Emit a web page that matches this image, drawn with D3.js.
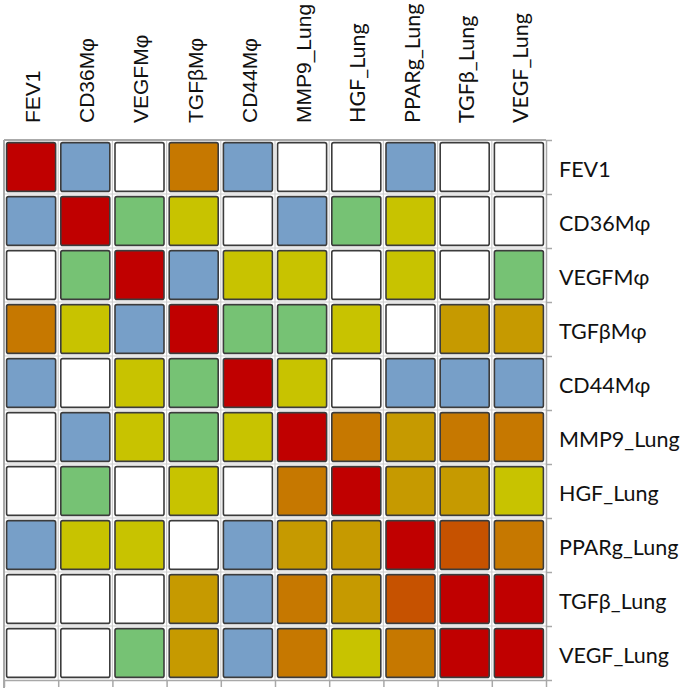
<!DOCTYPE html>
<html><head><meta charset="utf-8">
<script src="https://cdn.jsdelivr.net/npm/d3@7"></script>
<style>body{margin:0;background:#fff}svg{display:block}</style>
</head><body>
<svg id="c" width="685" height="692"></svg>
<script>
const columns = ["FEV1","CD36Mφ","VEGFMφ","TGFβMφ","CD44Mφ","MMP9_Lung","HGF_Lung","PPARg_Lung","TGFβ_Lung","VEGF_Lung"];
const rows = ["FEV1","CD36Mφ","VEGFMφ","TGFβMφ","CD44Mφ","MMP9_Lung","HGF_Lung","PPARg_Lung","TGFβ_Lung","VEGF_Lung"];
// level 0 = blank, 1..7 = colour class
const levels = [0,1,2,3,4,5,6,7];
const levelColors = ["#ffffff","#779fc8","#76c274","#c8c300","#c69a00","#c67800","#c65200","#c00000"];
const matrix = [
  [7,1,0,5,1,0,0,1,0,0],
  [1,7,2,3,0,1,2,3,0,0],
  [0,2,7,1,3,3,0,3,0,2],
  [5,3,1,7,2,2,3,0,4,4],
  [1,0,3,2,7,3,0,1,1,1],
  [0,1,3,2,3,7,5,4,5,5],
  [0,2,0,3,0,5,7,4,4,3],
  [1,3,3,0,1,4,4,7,6,5],
  [0,0,0,4,1,5,4,6,7,7],
  [0,0,2,4,1,5,3,5,7,7]
];

const svg = d3.select("#c");
const L = 4, R = 546, T = 140, B = 680;
const x = d3.scaleBand().domain(columns).range([L, R]);
const y = d3.scaleBand().domain(rows).range([T, B]);
const color = d3.scaleOrdinal().domain(levels).range(levelColors);
const xi = d3.scaleLinear().domain([0, columns.length]).range([L, R]);
const yi = d3.scaleLinear().domain([0, rows.length]).range([T, B]);

// grid lines between cells
const g = svg.append("g");
g.selectAll("line.v").data(d3.range(1, columns.length)).join("line")
  .attr("x1", d => xi(d)).attr("x2", d => xi(d)).attr("y1", T).attr("y2", B)
  .attr("stroke", "#cfcfcf").attr("stroke-width", 1.2);
g.selectAll("line.h").data(d3.range(1, rows.length)).join("line")
  .attr("y1", d => yi(d)).attr("y2", d => yi(d)).attr("x1", L).attr("x2", R)
  .attr("stroke", "#cfcfcf").attr("stroke-width", 1.2);
// top and left border
g.append("line").attr("x1", L).attr("x2", R).attr("y1", T).attr("y2", T).attr("stroke", "#aaaaaa").attr("stroke-width", 2);
g.append("line").attr("x1", L).attr("x2", L).attr("y1", T).attr("y2", B + 8).attr("stroke", "#aaaaaa").attr("stroke-width", 2);

// axes (tick marks at cell boundaries)
const rightAxis = d3.axisRight(yi).tickValues(d3.range(0, rows.length + 1)).tickFormat("").tickSizeInner(6).tickSizeOuter(0);
const ra = svg.append("g").attr("transform", `translate(${R},0)`).call(rightAxis);
const bottomAxis = d3.axisBottom(xi).tickValues(d3.range(0, columns.length + 1)).tickFormat("").tickSizeInner(7).tickSizeOuter(0);
const ba = svg.append("g").attr("transform", `translate(0,${B})`).call(bottomAxis);
[ra, ba].forEach(a => {
  a.selectAll("path").attr("stroke", "#a8a8a8").attr("stroke-width", 1.5);
  a.selectAll("line").attr("stroke", "#a8a8a8").attr("stroke-width", 1.5);
});

// cells
const cells = [];
matrix.forEach((r, i) => r.forEach((v, j) => cells.push({row: rows[i], col: columns[j], v})));
const pad = 2.6;
svg.append("g").selectAll("rect").data(cells).join("rect")
  .attr("x", d => x(d.col) + pad)
  .attr("y", d => y(d.row) + pad)
  .attr("width", x.bandwidth() - 2 * pad)
  .attr("height", y.bandwidth() - 2 * pad)
  .attr("rx", 2).attr("ry", 2)
  .attr("fill", d => color(d.v))
  .attr("stroke", "#3c3c3c").attr("stroke-width", 1.6);

// column labels
svg.append("g").selectAll("text").data(columns).join("text")
  .attr("transform", d => `translate(${x(d) + x.bandwidth() / 2 + 1.5},123) rotate(-90)`)
  .attr("text-anchor", "start")
  .attr("dy", "0.35em")
  .attr("x", 0)
  .style("font-family", (d, i) => i < 6 ? "'Liberation Sans', Arial, sans-serif" : "Lato, 'Noto Sans', sans-serif")
  .style("font-size", (d, i) => i < 6 ? "21px" : "21.5px")
  .attr("fill", "#111")
  .text(d => d);

// row labels
svg.append("g").selectAll("text").data(rows).join("text")
  .attr("x", 559)
  .attr("y", d => y(d) + y.bandwidth() / 2 + 2.5)
  .attr("dy", "0.35em")
  .style("font-family", "Lato, 'Noto Sans', sans-serif")
  .style("font-size", "21.5px")
  .attr("fill", "#111")
  .text(d => d);
</script>
</body></html>
